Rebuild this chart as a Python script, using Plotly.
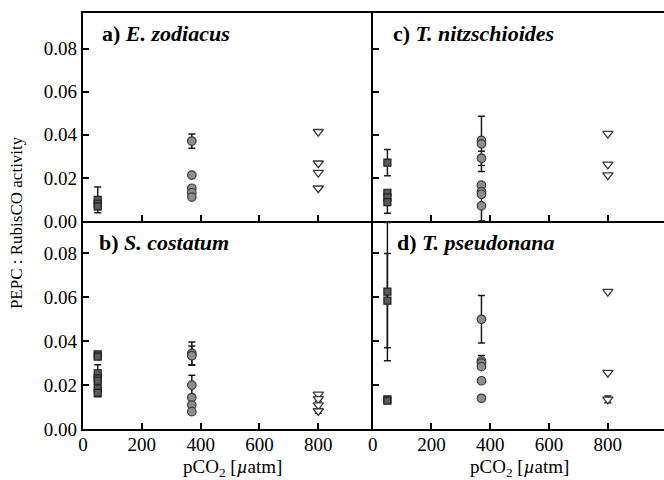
import plotly.graph_objects as go

# ---------------- data ----------------
x_low = 50
x_mid = 370
x_high = 800

# panel a) E. zodiacus
a_sq_y = [0.0098, 0.0080, 0.0068]
a_sq_err = [0.0060, 0.0, 0.0015]
a_ci_y = [0.0371, 0.0213, 0.0152, 0.0131, 0.0111]
a_ci_err = [0.0033, 0.0, 0.0, 0.0, 0.0]
a_tr_y = [0.0414, 0.0268, 0.0224, 0.0152]
a_tr_err = [0.0, 0.0, 0.0, 0.0]

# panel b) S. costatum
b_sq_y = [0.0340, 0.0330, 0.0254, 0.0231, 0.0220, 0.0185, 0.0165]
b_sq_err = [0.0, 0.0, 0.0, 0.0, 0.0073, 0.0, 0.0]
b_ci_y = [0.0345, 0.0334, 0.0200, 0.0143, 0.0109, 0.0079]
b_ci_err = [0.0052, 0.0044, 0.0045, 0.0, 0.0, 0.0]
b_tr_y = [0.0158, 0.0137, 0.0109, 0.0082]
b_tr_err = [0.0, 0.0010, 0.0, 0.0010]

# panel c) T. nitzschioides
c_sq_y = [0.0271, 0.0131, 0.0110, 0.0088]
c_sq_err = [0.0061, 0.0, 0.0, 0.0052]
c_ci_y = [0.0374, 0.0358, 0.0291, 0.0166, 0.0136, 0.0124, 0.0070]
c_ci_err = [0.0, 0.0128, 0.0033, 0.0, 0.0, 0.0, 0.0070]
c_tr_y = [0.0405, 0.0263, 0.0213]
c_tr_err = [0.0, 0.0, 0.0]

# panel d) T. pseudonana
d_sq_y = [0.0626, 0.0585, 0.0135, 0.0129]
d_sq_err = [0.0315, 0.0215, 0.0, 0.0]
d_ci_y = [0.0500, 0.0310, 0.0300, 0.0284, 0.0220, 0.0140]
d_ci_err = [0.0108, 0.0025, 0.0, 0.0, 0.0, 0.0]
d_tr_y = [0.0626, 0.0257, 0.0135]
d_tr_err = [0.0, 0.0, 0.0015]

x_ticks = [0, 200, 400, 600, 800]
y_ticks = [0.00, 0.02, 0.04, 0.06, 0.08]

panel_labels = {
    "a": "<b>a)</b> <b><i>E. zodiacus</i></b>",
    "b": "<b>b)</b> <b><i>S. costatum</i></b>",
    "c": "<b>c)</b> <b><i>T. nitzschioides</i></b>",
    "d": "<b>d)</b> <b><i>T. pseudonana</i></b>",
}
x_title = "pCO<sub>2</sub> [<i>µ</i>atm]"
y_title = "PEPC : RubisCO activity"

# ---------------- styles ----------------
FONT = "Liberation Serif"
sq_style = dict(symbol="square", size=7, color="#5a5a5a", line=dict(color="#1e1e1e", width=1.2))
ci_style = dict(symbol="circle", size=8.5, color="#8e8e8e", line=dict(color="#3a3a3a", width=1.2))
tr_style = dict(symbol="triangle-down", size=9, color="white", line=dict(color="#3a3a3a", width=1.3))

fig = go.Figure()

panels = {
    "a": ("x", "y", [(x_low, a_sq_y, a_sq_err, sq_style), (x_mid, a_ci_y, a_ci_err, ci_style), (x_high, a_tr_y, a_tr_err, tr_style)]),
    "c": ("x2", "y2", [(x_low, c_sq_y, c_sq_err, sq_style), (x_mid, c_ci_y, c_ci_err, ci_style), (x_high, c_tr_y, c_tr_err, tr_style)]),
    "b": ("x3", "y3", [(x_low, b_sq_y, b_sq_err, sq_style), (x_mid, b_ci_y, b_ci_err, ci_style), (x_high, b_tr_y, b_tr_err, tr_style)]),
    "d": ("x4", "y4", [(x_low, d_sq_y, d_sq_err, sq_style), (x_mid, d_ci_y, d_ci_err, ci_style), (x_high, d_tr_y, d_tr_err, tr_style)]),
}

for key, (xa, ya, groups) in panels.items():
    for xv, ys, errs, style in groups:
        ex = [xv for e in errs if e > 0]
        ey = [y for y, e in zip(ys, errs) if e > 0]
        ee = [e for e in errs if e > 0]
        if ey:
            fig.add_trace(go.Scatter(
                x=ex, y=ey, xaxis=xa, yaxis=ya, mode="markers",
                marker=dict(size=1, color="rgba(0,0,0,0)"),
                error_y=dict(type="data", array=ee, visible=True, color="#1a1a1a",
                             thickness=1.5, width=3.5),
                showlegend=False, hoverinfo="skip"))
        fig.add_trace(go.Scatter(
            x=[xv] * len(ys), y=ys, xaxis=xa, yaxis=ya, mode="markers",
            marker=style, showlegend=False))

split_x = 289.7 / 581
ax_common = dict(showline=True, linecolor="black", linewidth=2.2, ticks="inside",
                 ticklen=6, tickwidth=2, tickcolor="black", showgrid=False, zeroline=False,
                 tickfont=dict(family=FONT, size=19, color="black"))

xr_left = [0, 985]
xr_right = [0, 991]
yr_top = [0, 0.0965]
yr_bot = [0, 0.0948]

fig.update_layout(
    width=664, height=480,
    margin=dict(l=83, r=0, t=13, b=51),
    plot_bgcolor="white", paper_bgcolor="white",
    font=dict(family=FONT, color="black"),
    xaxis=dict(domain=[0, split_x], range=xr_left, tickvals=x_ticks, showticklabels=False,
               mirror=True, anchor="y", **ax_common),
    yaxis=dict(domain=[0.5, 1], range=yr_top, tickvals=y_ticks, tickformat=".2f",
               mirror=False, anchor="x", **ax_common),
    xaxis2=dict(domain=[split_x, 1], range=xr_right, tickvals=x_ticks, showticklabels=False,
                mirror=True, anchor="y2", **ax_common),
    yaxis2=dict(domain=[0.5, 1], range=yr_top, tickvals=y_ticks, showticklabels=False,
                mirror=False, anchor="x2", **ax_common),
    xaxis3=dict(domain=[0, split_x], range=xr_left, tickvals=x_ticks,
                mirror=False, anchor="y3", ticklabelstandoff=-3, **ax_common),
    yaxis3=dict(domain=[0, 0.5], range=yr_bot, tickvals=y_ticks, tickformat=".2f",
                mirror=False, anchor="x3", **ax_common),
    xaxis4=dict(domain=[split_x, 1], range=xr_right, tickvals=x_ticks,
                mirror=False, anchor="y4", ticklabelstandoff=-3, **ax_common),
    yaxis4=dict(domain=[0, 0.5], range=yr_bot, tickvals=y_ticks, showticklabels=False,
                mirror=False, anchor="x4", **ax_common),
)

label_pos = {"a": ("x", "y", 58, 0.0872), "c": ("x2", "y2", 61, 0.0872),
             "b": ("x3", "y3", 46, 0.0848), "d": ("x4", "y4", 76, 0.0848)}
for key, (xa, ya, lx, ly) in label_pos.items():
    fig.add_annotation(x=lx, y=ly, xref=xa, yref=ya, text=panel_labels[key],
                       showarrow=False, xanchor="left", yanchor="middle",
                       font=dict(family=FONT, size=22, color="black"))

# x-axis titles
for cx in [(0 + split_x) / 2 + 0.008, (split_x + 1) / 2 + 0.002]:
    fig.add_annotation(x=cx, y=-39 / 416, xref="paper", yref="paper",
                       text=x_title, showarrow=False, xanchor="center", yanchor="middle",
                       font=dict(family=FONT, size=19, color="black"))
# y-axis title
fig.add_annotation(x=(16 - 83) / 581, y=0.495, xref="paper", yref="paper",
                   text=y_title, textangle=-90, showarrow=False,
                   xanchor="center", yanchor="middle",
                   font=dict(family=FONT, size=17, color="black"))

fig.write_html("out.html")
